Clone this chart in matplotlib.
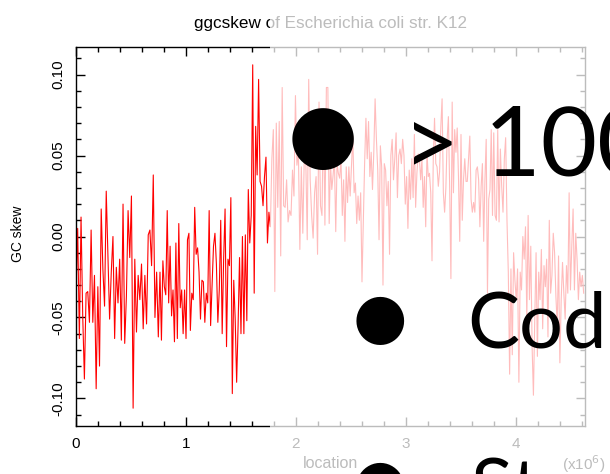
import matplotlib
matplotlib.use("Agg")
import matplotlib.pyplot as plt
import numpy as np
from matplotlib.patches import Rectangle
from matplotlib.ticker import MultipleLocator, FuncFormatter

plt.rcParams['font.family'] = ['Liberation Sans', 'DejaVu Sans']
plt.rcParams['axes.unicode_minus'] = False

# GC skew, one list per stretch of the genome
skew_a = [-0.035, 0.005, -0.063, 0.012, -0.049, -0.088, -0.035, -0.034, -0.053, 0.004,
          -0.053, -0.024, -0.094, -0.031, -0.080, 0.017, -0.020, -0.043, 0.028, -0.012,
          -0.051, -0.022, 0.000, -0.063, -0.019, -0.041, -0.014, -0.064, 0.020, -0.066,
          -0.037, 0.016, -0.013, 0.025, -0.106, -0.014, -0.059, -0.024, -0.039, -0.017,
          -0.057, -0.024, -0.054, 0.001, 0.004, -0.018, 0.038, -0.050, -0.022, -0.062]
skew_b = [-0.022, -0.064, -0.015, -0.031, -0.036, 0.016, -0.041, -0.006, -0.049, -0.033,
          -0.065, -0.004, -0.063, 0.008, -0.044, -0.033, -0.060, -0.033, -0.063, -0.002,
          0.002, -0.058, -0.035, -0.039, 0.018, -0.011, -0.007, -0.022, -0.051, -0.027,
          -0.028, -0.053, -0.035, -0.041, 0.016, -0.055, -0.031, -0.006, 0.002, -0.017,
          -0.053, -0.033, 0.010, -0.060, -0.014, 0.017, -0.068, -0.014, -0.018, 0.024,
          -0.097, -0.027, -0.051, -0.090, -0.055, -0.013, -0.060, 0.000]
skew_c = [-0.060, 0.001, -0.052, 0.029, -0.004, 0.013, 0.106, -0.035, 0.068, 0.038,
          0.097, 0.034, 0.031, 0.019, 0.037, 0.049, -0.004, 0.015, 0.006, 0.048,
          0.066, -0.034, 0.070, 0.018, 0.071, -0.012, 0.092, 0.019, 0.018, 0.035,
          0.009, 0.016, 0.013, 0.041, 0.025, 0.087, 0.044, 0.052, -0.008, 0.043,
          0.002, 0.050, 0.048, -0.002, 0.097, 0.035, 0.013, -0.001, 0.027, 0.037,
          -0.011, 0.083, 0.019, 0.013, 0.078, 0.007, 0.092]
skew_d = [0.092, 0.008, 0.045, 0.029, 0.038, 0.048, 0.003, 0.045, 0.039, 0.036,
          0.048, 0.013, 0.035, -0.003, 0.043, 0.021, 0.043, 0.025, 0.043, 0.062,
          0.027, 0.033, 0.008, 0.025, 0.010, 0.027, -0.028, 0.010, 0.045, 0.073,
          0.048, 0.071, 0.037, 0.052, 0.029, 0.052, 0.085, 0.060, 0.041, -0.002,
          0.056, 0.043, -0.030, 0.045, 0.041, 0.019, 0.034, -0.011, 0.050, 0.060,
          0.035, 0.048, 0.064, 0.024, 0.050, 0.054, 0.045, 0.060, 0.050, 0.020,
          0.037, 0.005, 0.041, 0.023]
skew_e = [0.048, 0.024, 0.063, 0.018, 0.039, 0.051, 0.048, 0.035, 0.048, 0.018,
          0.037, 0.006, 0.052, 0.037, 0.039, 0.027, -0.015, 0.048, 0.073, 0.045,
          0.043, 0.031, 0.040, 0.068, 0.085, 0.027, 0.015, 0.030, 0.060, 0.074,
          0.031, -0.026, 0.083, 0.027, 0.066, 0.052, 0.067, 0.037, -0.003, 0.063,
          0.010, 0.035, 0.048, 0.034, 0.034, 0.048, 0.062, 0.023, 0.015, 0.021,
          0.015, 0.041, 0.043, 0.035, 0.006, 0.031, 0.045, -0.003, 0.035, 0.060,
          -0.035, 0.023, 0.029, 0.066, 0.013]
skew_f = [0.064, 0.013, 0.010, 0.066, 0.009, 0.054, 0.031, 0.015, 0.048, 0.061,
          0.010, -0.022, -0.085, -0.020, -0.073, -0.010, -0.027, -0.039, -0.020, -0.090,
          -0.022, -0.033, 0.000, -0.014, 0.006, -0.051, 0.013, -0.039, -0.006, -0.068,
          -0.098, -0.051, -0.010, -0.074, -0.022, -0.039, -0.008, -0.057, -0.018, -0.031,
          -0.014, -0.062, 0.010, -0.035, -0.024, 0.002, -0.010, -0.037, -0.055, -0.012,
          -0.078, -0.039, -0.016, -0.035, -0.051, -0.018, -0.035, 0.027, -0.033, -0.006,
          0.017, -0.033, 0.002, -0.014, -0.039, -0.022, -0.031, -0.024, -0.035]
segments = [skew_a, skew_b, skew_c, skew_d, skew_e, skew_f]
# start / end of each stretch, in Mb
seg_bounds = [0.0, 0.764, 1.527, 2.291, 3.055, 3.80, 4.63]
genome_len = 4.63e6

title = "ggcskew of Escherichia coli str. K12"
bullet_lines = ["> 1000", "Coding", "Strand"]

loc, skew = [], []
for vals, a, b in zip(segments, seg_bounds[:-1], seg_bounds[1:]):
    loc.extend(np.linspace(a, b, len(vals), endpoint=False) * 1e6)
    skew.extend(vals)

W, H = 610, 474
fig = plt.figure(figsize=(W / 100, H / 100), dpi=100)
ax = fig.add_axes([76 / W, 1 - 426 / H, (585 - 76) / W, (426 - 47) / H])

ax.plot(loc, skew, color='red', linewidth=0.8)
ax.set_xlim(0, genome_len)
ax.set_ylim(-0.117, 0.117)

ax.xaxis.set_major_locator(MultipleLocator(1e6))
ax.xaxis.set_minor_locator(MultipleLocator(2e5))
ax.xaxis.set_major_formatter(FuncFormatter(lambda v, p: f"{v / 1e6:.0f}"))
ax.yaxis.set_major_locator(MultipleLocator(0.05))
ax.yaxis.set_minor_locator(MultipleLocator(0.01))
ax.yaxis.set_major_formatter(FuncFormatter(lambda v, p: f"{v:.2f}"))

ax.tick_params(which='both', direction='in', top=True, right=True, width=1)
ax.tick_params(which='major', length=6.5, labelsize=11, pad=8)
ax.tick_params(which='minor', length=3.6)
ax.tick_params(axis='y', labelrotation=90)
for lab in ax.get_yticklabels():
    lab.set_va('center')
for sp in ax.spines.values():
    sp.set_linewidth(1)

fig.text(330.5 / W, 1 - 28 / H, title, ha='center', va='baseline', fontsize=12.3, zorder=3)
fig.text(18 / W, 1 - 233.5 / H, "GC skew", rotation=90, ha='center', va='center', fontsize=10, zorder=3)
fig.text(330 / W, 1 - 464 / H, "location", ha='center', va='center', fontsize=11.5, zorder=3)
fig.text(605 / W, 1 - 464 / H, "(x10$^6$)", ha='right', va='center', fontsize=11, zorder=3)

# washed-out panel over the right side of the chart and its labels
fig.patches.append(Rectangle((270 / W, 0), 1 - 270 / W, 1, transform=fig.transFigure,
                             facecolor='white', alpha=0.74, edgecolor='none', zorder=4))

# oversized bullet list on top
big = dict(family=['Lato', 'DejaVu Sans'], color='black', va='baseline', ha='left', zorder=5)
fig.text(403 / W, 1 - 175 / H, bullet_lines[0], fontsize=70, **big)
fig.text(467 / W, 1 - 348 / H, bullet_lines[1], fontsize=56, **big)
fig.text(471 / W, 1 - 513 / H, bullet_lines[2], fontsize=56, **big)
dot = dict(family='DejaVu Sans', color='black', ha='center', va='center', zorder=5)
fig.text(323 / W, 1 - 138 / H, "\u25cf", fontsize=58, **dot)
fig.text(380 / W, 1 - 320 / H, "\u25cf", fontsize=45, **dot)
fig.text(380 / W, 1 - 486 / H, "\u25cf", fontsize=45, **dot)

fig.savefig("out.png", dpi=100)
